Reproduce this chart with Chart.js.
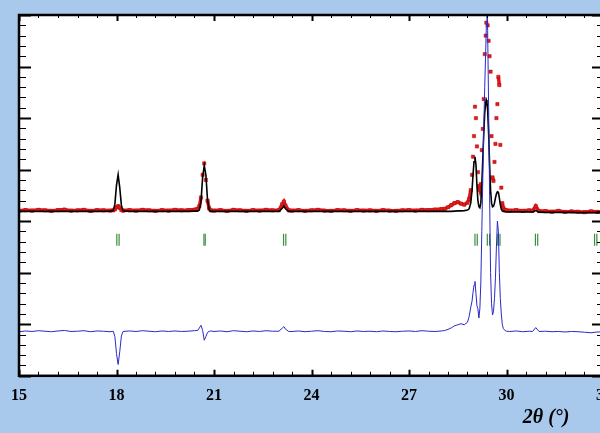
<!DOCTYPE html>
<html>
<head>
<meta charset="utf-8">
<script src="https://cdn.jsdelivr.net/npm/chart.js@4"></script>
<style>
  body { margin: 0; background: #a8c8ec; overflow: hidden; }
  #wrap { width: 622px; height: 433px; }
</style>
</head>
<body>
<div id="wrap"><canvas id="grafico"></canvas></div>
<script>
// 2theta positions (deg)
const twoTheta = [
  15.0, 15.2, 15.4, 15.6, 15.8, 16.0, 16.2, 16.4, 16.6, 16.8, 17.0, 17.2, 17.4, 17.6, 17.8,
  17.9, 17.95, 18.0, 18.05, 18.1, 18.15, 18.2,
  18.4, 18.6, 18.8, 19.0, 19.2, 19.4, 19.6, 19.8, 20.0, 20.2, 20.4,
  20.5, 20.55, 20.6, 20.65, 20.7, 20.75, 20.8, 20.85, 20.9,
  21.0, 21.2, 21.4, 21.6, 21.8, 22.0, 22.2, 22.4, 22.6, 22.8,
  23.0, 23.1, 23.15, 23.2, 23.3,
  23.4, 23.6, 23.8, 24.0, 24.2, 24.4, 24.6, 24.8, 25.0, 25.2, 25.4, 25.6, 25.8, 26.0, 26.2, 26.4,
  26.6, 26.8, 27.0, 27.2, 27.4, 27.6, 27.8, 28.0,
  28.1, 28.2, 28.3, 28.4, 28.5, 28.6, 28.7, 28.8,
  28.85, 28.9, 28.94, 28.97,
  29.0, 29.03, 29.06, 29.09, 29.12, 29.15, 29.18, 29.21, 29.24, 29.27, 29.3, 29.33, 29.36,
  29.38, 29.4, 29.42,
  29.45, 29.48, 29.51, 29.54, 29.57, 29.6, 29.63, 29.66, 29.69, 29.72, 29.75, 29.78, 29.81, 29.84, 29.87,
  29.9, 29.95, 30.0,
  30.1, 30.3, 30.5, 30.7,
  30.8, 30.9, 31.0,
  31.2, 31.4, 31.6, 31.8, 32.0, 32.2, 32.4, 32.6, 32.8, 33.0
];

const yObs = [
  3200, 3215, 3205, 3220, 3210, 3200, 3215, 3225, 3205, 3210, 3220, 3200, 3215, 3210, 3205,
  3210, 3230, 3270, 3290, 3260, 3220, 3205,
  3215, 3205, 3220, 3210, 3200, 3215, 3205, 3220, 3210, 3215, 3225,
  3240, 3290, 3460, 3900, 4120, 3800, 3400, 3250, 3210,
  3205, 3215, 3200, 3220, 3210, 3200, 3215, 3205, 3220, 3210,
  3215, 3330, 3380, 3300, 3210,
  3205, 3215, 3200, 3210, 3220, 3205, 3200, 3215, 3210, 3200, 3215, 3205, 3210, 3200, 3215, 3205,
  3200, 3210, 3215, 3205, 3220, 3215, 3225, 3235,
  3240, 3270, 3310, 3350, 3370, 3340, 3320, 3360,
  3430, 3600, 3900, 4250,
  4650, 5220, 5000, 4450, 3950, 3680, 3610, 3720, 4380, 4790, 5370, 6240, 6600,
  6850, 7030, 6800,
  6500, 6200, 5900, 4650, 3850, 3780, 4150, 4500, 5000, 5270, 5800, 5640, 4480, 3650, 3350,
  3260, 3220, 3210,
  3205, 3215, 3200, 3210,
  3200, 3290, 3195,
  3195, 3185, 3200, 3180, 3190, 3185, 3175, 3190, 3180, 3185
];

const yCalc = [
  3190, 3190, 3190, 3190, 3190, 3190, 3190, 3190, 3190, 3190, 3190, 3190, 3190, 3190, 3195,
  3205, 3330, 3700, 3900, 3650, 3310, 3200,
  3190, 3190, 3190, 3190, 3190, 3190, 3190, 3190, 3190, 3190, 3195,
  3195, 3220, 3380, 3850, 4080, 3900, 3420, 3220, 3190,
  3190, 3190, 3190, 3190, 3190, 3190, 3190, 3190, 3190, 3190,
  3190, 3250, 3290, 3240, 3190,
  3190, 3190, 3190, 3190, 3190, 3190, 3190, 3190, 3190, 3190, 3190, 3190, 3190, 3190, 3190, 3190,
  3190, 3190, 3190, 3190, 3190, 3190, 3190, 3190,
  3190, 3190, 3190, 3195, 3200, 3200, 3205, 3215,
  3240, 3350, 3600, 3900,
  4150, 4250, 4100, 3700, 3400, 3280, 3260, 3350, 3700, 4200, 4700, 5100, 5300,
  5350, 5300, 5150,
  4700, 4100, 3600, 3350, 3280, 3290, 3350, 3450, 3530, 3570, 3560, 3450, 3320, 3230, 3200,
  3190, 3185, 3180,
  3180, 3180, 3180, 3180,
  3180, 3205, 3175,
  3170, 3170, 3170, 3170, 3170, 3165, 3165, 3165, 3165, 3165
];

const yDiff = [
  855, 870, 860, 875, 865, 855, 870, 880, 860, 865, 875, 855, 870, 865, 855,
  865, 760, 430, 220, 470, 770, 860,
  870, 860, 875, 865, 855, 870, 860, 870, 860, 865, 875,
  880, 930, 980, 880, 690, 760, 840, 860, 870,
  860, 870, 855, 875, 865, 855, 870, 860, 875, 865,
  865, 925, 955, 905, 860,
  860, 870, 855, 865, 875, 860, 855, 870, 865, 855, 870, 860, 865, 855, 870, 860,
  855, 865, 870, 860, 875, 865, 860, 870,
  880, 900, 930, 970, 990, 1010, 990, 1040,
  1150, 1330, 1450, 1620,
  1760, 1830, 1600, 1360, 1300, 1120, 1300, 1800, 2800, 3800, 4800, 5600, 6300,
  6800, 7300, 6700,
  5200, 3500, 2000, 1400, 1180, 1250, 1500, 1900, 2500, 3000, 2800, 2000, 1500, 1200, 1000,
  920, 880, 865,
  860, 870, 855, 865,
  860, 935, 860,
  865, 855, 860, 850, 860, 855, 845, 835, 850, 855
];

// reflection markers (K-alpha1 / K-alpha2)
const braggK1 = [18.01, 20.69, 23.14, 29.03, 29.41, 29.73, 30.89, 32.71];
const braggK2 = [18.08, 20.73, 23.21, 29.10, 29.48, 29.80, 30.96, 32.78];
const braggLevel = 2640;

const xTicks = [15, 18, 21, 24, 27, 30, 33];

const pts = (ys) => twoTheta.map((x, i) => ({ x: x, y: ys[i] }));
const braggPts = braggK1.concat(braggK2).map(x => ({ x: x, y: braggLevel }));

// frame, white plot area, inner ticks and axis title
const moldura = {
  id: 'moldura',
  beforeDraw(chart) {
    const { ctx, chartArea: a } = chart;
    ctx.save();
    ctx.fillStyle = '#ffffff';
    ctx.fillRect(a.left, a.top, a.right - a.left, a.bottom - a.top);
    ctx.restore();
  },
  afterDraw(chart) {
    const { ctx, chartArea: a } = chart;
    const xs = chart.scales.x, ys = chart.scales.y;
    ctx.save();
    ctx.strokeStyle = '#000';
    // x ticks, top and bottom
    for (let k = 0; k <= 30; k++) {
      const px = Math.round(xs.getPixelForValue(15 + k * 0.6)) + 0.5;
      const major = k % 5 === 0;
      ctx.lineWidth = major ? 2 : 1;
      ctx.beginPath();
      ctx.moveTo(px, a.bottom); ctx.lineTo(px, a.bottom - (major ? 6 : 4));
      ctx.moveTo(px, a.top); ctx.lineTo(px, a.top + (major ? 6 : 3));
      ctx.stroke();
    }
    // y ticks, left
    for (let k = 0; k <= 35; k++) {
      const py = Math.round(ys.getPixelForValue(k * 200)) + 0.5;
      const major = k % 5 === 0;
      ctx.lineWidth = major ? 2 : 1.2;
      ctx.beginPath();
      ctx.moveTo(a.left, py); ctx.lineTo(a.left + (major ? 12 : 7), py);
      ctx.moveTo(a.right, py); ctx.lineTo(a.right - (major ? 12 : 7), py);
      ctx.stroke();
    }
    ctx.lineWidth = 2.5;
    ctx.strokeRect(a.left, a.top, a.right - a.left, a.bottom - a.top);

    ctx.fillStyle = '#000';
    ctx.font = 'bold italic 20px "Liberation Serif"';
    ctx.textAlign = 'center';
    ctx.textBaseline = 'middle';
    ctx.fillText('2θ (°)', xs.getPixelForValue(31.22), 418);
    ctx.restore();
  }
};

const ctx = document.getElementById('grafico');
new Chart(ctx, {
  type: 'line',
  data: {
    datasets: [
      {
        label: 'Diferença',
        data: pts(yDiff),
        borderColor: '#2a2ac8',
        borderWidth: 1,
        pointRadius: 0,
        order: 0
      },
      {
        label: 'Calculado',
        data: pts(yCalc),
        borderColor: '#000000',
        borderWidth: 1.6,
        pointRadius: 0,
        order: 1
      },
      {
        label: 'Observado',
        data: pts(yObs),
        borderColor: '#e3141a',
        borderWidth: 3.5,
        pointRadius: 2.3,
        pointStyle: 'rect',
        pointBackgroundColor: '#e51b1b',
        pointBorderColor: '#b50a0a',
        pointBorderWidth: 0.5,
        segment: {
          borderColor: c => Math.abs(c.p1.y - c.p0.y) > 9 ? 'rgba(0,0,0,0)' : undefined
        },
        order: 2
      },
      {
        label: 'Bragg',
        type: 'scatter',
        data: braggPts,
        pointStyle: 'line',
        rotation: 90,
        pointRadius: 6,
        borderColor: '#3d8d3d',
        borderWidth: 1.2,
        showLine: false,
        order: 3
      }
    ]
  },
  options: {
    animation: false,
    responsive: true,
    maintainAspectRatio: false,
    layout: { padding: { left: 19, right: 8, top: 15, bottom: 18 } },
    plugins: { legend: { display: false }, tooltip: { enabled: false } },
    scales: {
      x: {
        type: 'linear',
        min: 15,
        max: 33,
        afterBuildTicks: (s) => { s.ticks = xTicks.map(v => ({ value: v })); },
        grid: { display: false, drawTicks: false },
        border: { display: false },
        ticks: {
          padding: 10,
          color: '#000',
          font: { family: '"Liberation Serif"', weight: 'bold', size: 16 }
        }
      },
      y: {
        min: 0,
        max: 7000,
        display: false
      }
    }
  },
  plugins: [moldura]
});
</script>
</body>
</html>
